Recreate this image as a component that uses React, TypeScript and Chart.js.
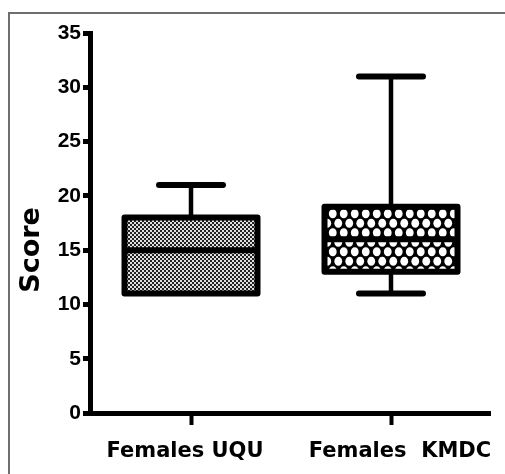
import React, { useEffect, useRef } from 'react';
import { Chart, registerables } from 'chart.js';

Chart.register(...registerables);

// ---- data ----
const categories = ['Females UQU', 'Females  KMDC'];
const minValues = [11, 11];
const q1Values = [11, 13];
const medianValues = [15, 16];
const q3Values = [18, 19];
const maxValues = [21, 31];
const yTickValues = [0, 5, 10, 15, 20, 25, 30, 35];
const yAxisTitle = 'Score';

// ---- styles ----
const BOX_LINE = 6;
const WHISKER_LINE = 4.5;
const CAP_LINE = 6;
const CAP_HALF = 32;

function makeFinePattern(): CanvasPattern | string {
  const c = document.createElement('canvas');
  c.width = 4;
  c.height = 4;
  const g = c.getContext('2d');
  if (!g) return '#888';
  g.fillStyle = '#222';
  g.fillRect(0, 0, 4, 4);
  g.fillStyle = '#e0e0e0';
  g.fillRect(0, 0, 2, 2);
  g.fillRect(2, 2, 2, 2);
  return g.createPattern(c, 'repeat') || '#888';
}

function makeCoarsePattern(): CanvasPattern | string {
  const c = document.createElement('canvas');
  c.width = 11;
  c.height = 19;
  const g = c.getContext('2d');
  if (!g) return '#777';
  g.fillStyle = '#000';
  g.fillRect(0, 0, 11, 19);
  g.fillStyle = '#fff';
  const spots = [
    [2.75, 4.75],
    [8.25, 14.25],
    [-2.75, 14.25],
    [13.75, 4.75],
    [2.75, 23.75],
    [8.25, -4.75],
    [-2.75, -4.75],
    [13.75, 23.75],
  ];
  spots.forEach(([sx, sy]) => {
    g.beginPath();
    g.ellipse(sx, sy, 3.9, 4.6, 0, 0, Math.PI * 2);
    g.fill();
  });
  return g.createPattern(c, 'repeat') || '#777';
}

const boxPlugin = {
  id: 'boxWhiskers',
  beforeDatasetsDraw(chart: any) {
    const { ctx } = chart;
    const y = chart.scales.y;
    const meta = chart.getDatasetMeta(0);
    ctx.save();
    ctx.strokeStyle = '#000';
    ctx.lineWidth = WHISKER_LINE;
    ctx.lineCap = 'butt';
    meta.data.forEach((el: any, i: number) => {
      const cx = el.x;
      ctx.beginPath();
      ctx.moveTo(cx, y.getPixelForValue(q3Values[i]));
      ctx.lineTo(cx, y.getPixelForValue(maxValues[i]));
      ctx.stroke();
      if (minValues[i] < q1Values[i]) {
        ctx.beginPath();
        ctx.moveTo(cx, y.getPixelForValue(q1Values[i]));
        ctx.lineTo(cx, y.getPixelForValue(minValues[i]));
        ctx.stroke();
      }
    });
    ctx.restore();
  },
  afterDatasetsDraw(chart: any) {
    const { ctx } = chart;
    const y = chart.scales.y;
    const meta = chart.getDatasetMeta(0);
    ctx.save();
    ctx.strokeStyle = '#000';
    meta.data.forEach((el: any, i: number) => {
      const cx = el.x;
      const half = el.width / 2;
      const top = y.getPixelForValue(q3Values[i]);
      const bottom = y.getPixelForValue(q1Values[i]);
      const med = y.getPixelForValue(medianValues[i]);
      ctx.lineWidth = BOX_LINE;
      ctx.lineJoin = 'round';
      ctx.strokeRect(cx - half, top, half * 2, bottom - top);
      ctx.lineCap = 'butt';
      ctx.beginPath();
      ctx.moveTo(cx - half, med);
      ctx.lineTo(cx + half, med);
      ctx.stroke();
      ctx.lineWidth = CAP_LINE;
      ctx.lineCap = 'round';
      const capMax = y.getPixelForValue(maxValues[i]);
      ctx.beginPath();
      ctx.moveTo(cx - CAP_HALF, capMax);
      ctx.lineTo(cx + CAP_HALF, capMax);
      ctx.stroke();
      if (minValues[i] < q1Values[i]) {
        const capMin = y.getPixelForValue(minValues[i]);
        ctx.beginPath();
        ctx.moveTo(cx - CAP_HALF, capMin);
        ctx.lineTo(cx + CAP_HALF, capMin);
        ctx.stroke();
      }
    });
    ctx.restore();
  },
};

const yTitlePlugin = {
  id: 'yTitle',
  afterDraw(chart: any) {
    const { ctx } = chart;
    ctx.save();
    ctx.translate(32, 250);
    ctx.rotate(-Math.PI / 2);
    ctx.font = 'bold 27px "DejaVu Sans"';
    ctx.fillStyle = '#000';
    ctx.textAlign = 'center';
    ctx.textBaseline = 'middle';
    ctx.fillText(yAxisTitle, 0, 0);
    ctx.restore();
  },
};

const noSidePadding = (s: any) => {
  s.paddingLeft = 0;
  s.paddingRight = 0;
};

export default function App() {
  const ref = useRef<HTMLCanvasElement>(null);

  useEffect(() => {
    if (!ref.current) return;
    const fills = [makeFinePattern(), makeCoarsePattern()];
    const chart = new Chart(ref.current, {
      type: 'bar',
      data: {
        datasets: [
          {
            data: categories.map((_, i) => ({ x: i, y: [q1Values[i], q3Values[i]] })) as any,
            backgroundColor: fills as any,
            borderWidth: 0,
            barThickness: 133,
            xAxisID: 'x',
            yAxisID: 'y',
          },
        ],
      },
      options: {
        animation: false,
        responsive: false,
        layout: { padding: { left: 0, top: 33, right: 15, bottom: 0 } },
        plugins: { legend: { display: false }, tooltip: { enabled: false } },
        scales: {
          x: {
            type: 'linear',
            position: 'bottom',
            offset: false,
            min: -0.505,
            max: 1.495,
            afterBuildTicks: (s: any) => {
              s.ticks = categories.map((_, i) => ({ value: i }));
            },
            afterFit: (s: any) => {
              s.height = 12;
              noSidePadding(s);
            },
            ticks: { display: false },
            grid: {
              offset: false,
              drawOnChartArea: false,
              drawTicks: true,
              tickLength: 12,
              tickWidth: 4,
              tickColor: '#000',
            },
            border: { display: true, color: '#000', width: 5 },
          },
          xl: {
            type: 'linear',
            position: 'bottom',
            offset: false,
            weight: 1,
            min: -0.4419,
            max: 1.4186,
            afterBuildTicks: (s: any) => {
              s.ticks = categories.map((_, i) => ({ value: i }));
            },
            afterFit: (s: any) => {
              s.height = 49;
              noSidePadding(s);
            },
            ticks: {
              callback: (v: any) => categories[v] ?? '',
              font: { family: '"DejaVu Sans"', weight: 'bold', size: 21 },
              color: '#000',
              padding: 14,
              maxRotation: 0,
              autoSkip: false,
            },
            grid: { display: false, drawTicks: false, offset: false },
            border: { display: false },
          },
          y: {
            min: 0,
            max: 35,
            afterBuildTicks: (s: any) => {
              s.ticks = yTickValues.map((v) => ({ value: v }));
            },
            afterFit: (s: any) => {
              s.width = 90;
            },
            ticks: {
              font: { family: '"Liberation Sans", Arial', weight: 'bold', size: 21 },
              color: '#000',
              padding: 2,
            },
            grid: {
              drawOnChartArea: false,
              tickLength: 7,
              tickWidth: 5,
              tickColor: '#000',
            },
            border: { color: '#000', width: 5 },
          },
        } as any,
      },
      plugins: [boxPlugin, yTitlePlugin],
    });
    return () => chart.destroy();
  }, []);

  return (
    <div
      style={{
        position: 'fixed',
        left: 0,
        top: 0,
        width: 505,
        height: 474,
        overflow: 'hidden',
        background: '#fff',
      }}
    >
      <div
        style={{
          position: 'absolute',
          left: 8,
          top: 12,
          width: 497,
          height: 462,
          borderLeft: '2px solid #6e6e6e',
          borderTop: '2px solid #6e6e6e',
          boxSizing: 'border-box',
        }}
      />
      <canvas ref={ref} width={505} height={474} style={{ position: 'absolute', left: 0, top: 0 }} />
    </div>
  );
}
